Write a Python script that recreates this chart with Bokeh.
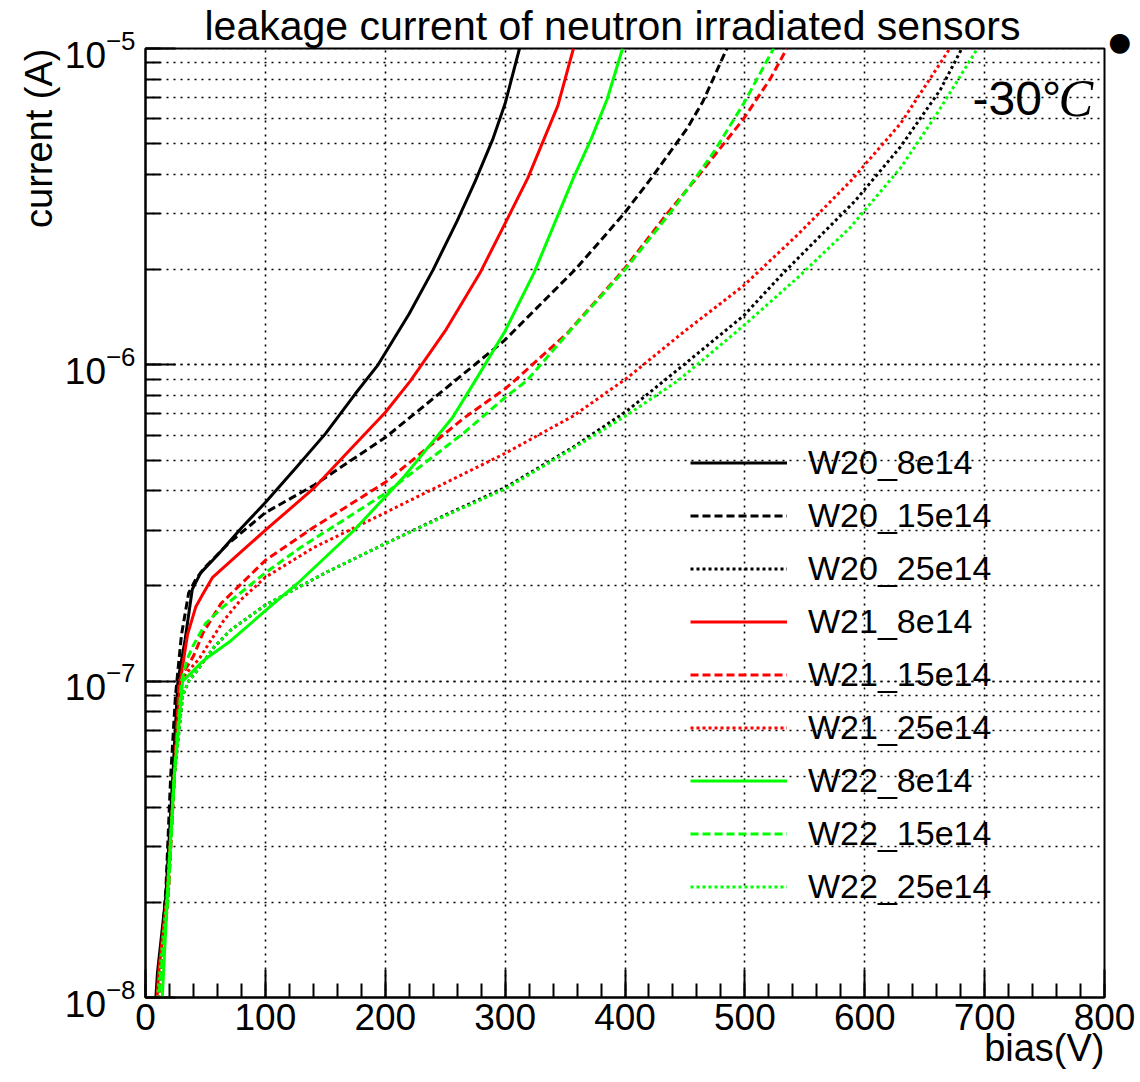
from bokeh.plotting import figure
from bokeh.models import SingleIntervalTicker, LogTicker, Label, Title
from bokeh.embed import file_html
from bokeh.resources import INLINE

FONT = "Liberation Sans"

# ---------------- data (bias in V, current in A) ----------------
series_names = ["W20_8e14", "W20_15e14", "W20_25e14",
                "W21_8e14", "W21_15e14", "W21_25e14",
                "W22_8e14", "W22_15e14", "W22_25e14"]

w20_8e14_v = [7, 10, 17, 23, 27, 33, 39, 46, 60, 80, 100, 125, 150, 175, 194, 220, 240, 260, 275, 290, 300, 312]
w20_8e14_i = [8e-9, 1.2e-8, 2.1e-8, 5.2e-8, 1.0e-7, 1.35e-7, 1.95e-7, 2.2e-7, 2.5e-7, 3.05e-7, 3.67e-7, 4.7e-7,
              6.05e-7, 8.1e-7, 1.0e-6, 1.45e-6, 2.0e-6, 2.85e-6, 3.8e-6, 5.2e-6, 6.7e-6, 1.0e-5]

w20_15e14_v = [8, 11, 17, 21, 25, 30, 36, 42, 50, 69, 100, 140, 200, 250, 299, 330, 359, 399, 421, 452, 465, 485]
w20_15e14_i = [8e-9, 1.1e-8, 2.2e-8, 5e-8, 9e-8, 1.4e-7, 1.9e-7, 2.1e-7, 2.3e-7, 2.72e-7, 3.41e-7, 4.15e-7,
               5.89e-7, 8.4e-7, 1.19e-6, 1.56e-6, 2.01e-6, 3.0e-6, 3.85e-6, 5.6e-6, 6.8e-6, 1.0e-5]

w20_25e14_v = [8, 11, 18, 24, 31, 36, 43, 57, 71, 100, 150, 200, 250, 300, 357, 402, 449, 499, 532, 592, 630, 663, 681]
w20_25e14_i = [8e-9, 1.1e-8, 2.1e-8, 5e-8, 9e-8, 1.0e-7, 1.08e-7, 1.28e-7, 1.45e-7, 1.74e-7, 2.2e-7, 2.72e-7,
               3.35e-7, 4.09e-7, 5.5e-7, 7.17e-7, 1.0e-6, 1.43e-6, 1.95e-6, 3.3e-6, 4.9e-6, 7.4e-6, 1.0e-5]

w21_8e14_v = [8, 11, 18, 24, 29, 35, 42, 48, 56, 75, 100, 140, 170, 200, 221, 250, 279, 302, 319, 344, 357]
w21_8e14_i = [8e-9, 1.2e-8, 2.1e-8, 5e-8, 1.0e-7, 1.4e-7, 1.72e-7, 1.89e-7, 2.13e-7, 2.47e-7, 3.0e-7, 4.06e-7,
              5.36e-7, 7.07e-7, 8.9e-7, 1.28e-6, 1.95e-6, 2.9e-6, 3.9e-6, 6.6e-6, 1.0e-5]

w21_15e14_v = [9, 12, 19, 24, 28, 34, 40, 48, 63, 100, 140, 200, 265, 300, 310, 352, 399, 435, 461, 499, 521, 535]
w21_15e14_i = [8e-9, 1.1e-8, 2.1e-8, 5e-8, 1.0e-7, 1.1e-7, 1.2e-7, 1.42e-7, 1.76e-7, 2.41e-7, 3.06e-7, 4.25e-7,
               6.76e-7, 8.4e-7, 9.06e-7, 1.26e-6, 2.0e-6, 3.0e-6, 3.95e-6, 6.0e-6, 8.0e-6, 1.0e-5]

w21_25e14_v = [9, 12, 19, 24, 29, 36, 45, 52, 65, 79, 100, 140, 200, 300, 357, 402, 450, 499, 545, 588, 630, 671]
w21_25e14_i = [8e-9, 1.1e-8, 2.1e-8, 5e-8, 1.0e-7, 1.08e-7, 1.18e-7, 1.3e-7, 1.55e-7, 1.8e-7, 2.13e-7, 2.64e-7,
               3.41e-7, 5.25e-7, 6.9e-7, 9.1e-7, 1.28e-6, 1.78e-6, 2.6e-6, 3.8e-6, 5.8e-6, 1.0e-5]

w22_8e14_v = [10, 14, 18, 24, 31, 38, 46, 52, 71, 100, 127, 174, 215, 256, 275, 300, 324, 357, 372, 385, 398]
w22_8e14_i = [8e-9, 1.0e-8, 2.0e-8, 5e-8, 1.0e-7, 1.06e-7, 1.14e-7, 1.19e-7, 1.34e-7, 1.67e-7, 2.04e-7, 3.0e-7,
              4.4e-7, 6.8e-7, 8.9e-7, 1.28e-6, 1.95e-6, 3.9e-6, 5.2e-6, 6.9e-6, 1.0e-5]

w22_15e14_v = [9, 12, 19, 24, 30, 35, 40, 50, 65, 100, 129, 200, 265, 302, 318, 354, 400, 440, 474, 499, 524]
w22_15e14_i = [8e-9, 1.1e-8, 2.1e-8, 5e-8, 1.0e-7, 1.18e-7, 1.3e-7, 1.52e-7, 1.72e-7, 2.2e-7, 2.64e-7, 3.92e-7,
               6.07e-7, 8.0e-7, 8.9e-7, 1.28e-6, 2.0e-6, 3.1e-6, 4.7e-6, 6.7e-6, 1.0e-5]

w22_25e14_v = [8, 11, 18, 24, 31, 36, 43, 57, 71, 100, 150, 200, 250, 300, 357, 402, 444, 499, 545, 588, 630, 660, 694]
w22_25e14_i = [8e-9, 1.1e-8, 2.1e-8, 5e-8, 9e-8, 1.0e-7, 1.08e-7, 1.28e-7, 1.45e-7, 1.74e-7, 2.2e-7, 2.72e-7,
               3.33e-7, 4.05e-7, 5.45e-7, 6.95e-7, 8.9e-7, 1.33e-6, 1.9e-6, 2.72e-6, 4.2e-6, 6.2e-6, 1.0e-5]

series_v = [w20_8e14_v, w20_15e14_v, w20_25e14_v, w21_8e14_v, w21_15e14_v, w21_25e14_v,
            w22_8e14_v, w22_15e14_v, w22_25e14_v]
series_i = [w20_8e14_i, w20_15e14_i, w20_25e14_i, w21_8e14_i, w21_15e14_i, w21_25e14_i,
            w22_8e14_i, w22_15e14_i, w22_25e14_i]

wafer_colors = ["#000000", "#ff0000", "#00ff00"]
fluence_dashes = ["solid", "8 4", "3 3"]

# ---------------- figure ----------------
p = figure(width=1140, height=1082, x_range=(0, 800), y_range=(1e-8, 1e-5),
           y_axis_type="log", output_backend="svg", toolbar_location=None,
           min_border_left=145, min_border_right=36, min_border_top=48, min_border_bottom=85,
           background_fill_color="white", border_fill_color="white")

p.title.text = "leakage current of neutron irradiated sensors"
p.title.text_font = FONT
p.title.text_font_size = "41px"
p.title.text_font_style = "normal"
p.title.text_color = "black"
p.title.align = "left"
p.title.offset = 59
p.title.standoff = 0

p.outline_line_color = "black"
p.outline_line_width = 2
p.outline_line_alpha = 1

for k, (vv, ii) in enumerate(zip(series_v, series_i)):
    col = wafer_colors[k // 3]
    dash = fluence_dashes[k % 3]
    p.line(vv, ii, line_color=col, line_width=3, line_dash=dash, legend_label=series_names[k],
           line_join="round")

# axes
xa = p.xaxis[0]
ya = p.yaxis[0]
xa.ticker = SingleIntervalTicker(interval=100, num_minor_ticks=5)
ya.ticker = LogTicker(mantissas=[1], num_minor_ticks=10)
for ax in (xa, ya):
    ax.axis_line_width = 2
    ax.axis_line_color = "black"
    ax.major_tick_line_width = 2
    ax.minor_tick_line_width = 2
    ax.major_tick_out = 0
    ax.minor_tick_out = 0
    ax.major_label_text_font = FONT
    ax.major_label_text_font_size = "37px"
    ax.major_label_text_color = "black"
xa.major_tick_in = 28
xa.minor_tick_in = 14
ya.major_tick_in = 30
ya.minor_tick_in = 15
xa.major_label_standoff = 6
ya.major_label_standoff = 10


def make_title(text, size, align):
    t = Title(text=text, align=align, text_font=FONT, text_font_size=size,
              text_font_style="normal", text_color="black")
    return t


xt = make_title("bias(V)", "38px", "right")
try:
    xt.standoff = -16
except Exception:
    pass
xt.offset = 0
p.add_layout(xt, "below")

yt = make_title("current (A)", "38px", "right")
try:
    yt.standoff = 4
except Exception:
    pass
p.add_layout(yt, "left")

dot = Title(text="●", align="left", text_font="DejaVu Sans", text_font_size="26px",
            text_color="black", vertical_align="top", offset=-16)
try:
    dot.standoff = 0
except Exception:
    pass
p.add_layout(dot, "right")

# grid
p.xgrid.grid_line_color = "black"
p.xgrid.grid_line_dash = "2 5"
p.xgrid.grid_line_width = 1.6
p.ygrid.grid_line_color = "black"
p.ygrid.grid_line_dash = "2 5"
p.ygrid.grid_line_width = 1.6
p.ygrid.minor_grid_line_color = "black"
p.ygrid.minor_grid_line_dash = "2 5"
p.ygrid.minor_grid_line_width = 1.6

# legend
lg = p.legend[0]
lg.location = (545, 90)
lg.padding = 0
lg.margin = 0
lg.spacing = 12
lg.glyph_width = 97
lg.glyph_height = 41
lg.label_height = 41
lg.label_standoff = 21
lg.label_text_font = FONT
lg.label_text_font_size = "34px"
lg.label_text_color = "black"
lg.border_line_alpha = 0
lg.background_fill_alpha = 0

# annotations
p.add_layout(Label(x=827, y=899, x_units="screen", y_units="screen", text="-30°",
                   text_font=FONT, text_font_size="48px", text_baseline="alphabetic",
                   text_color="black"))
p.add_layout(Label(x=913, y=899, x_units="screen", y_units="screen", text="C",
                   text_font="Liberation Serif", text_font_style="italic", text_font_size="52px",
                   text_baseline="alphabetic", text_color="black"))

open("out.html", "w").write(file_html(p, INLINE))
